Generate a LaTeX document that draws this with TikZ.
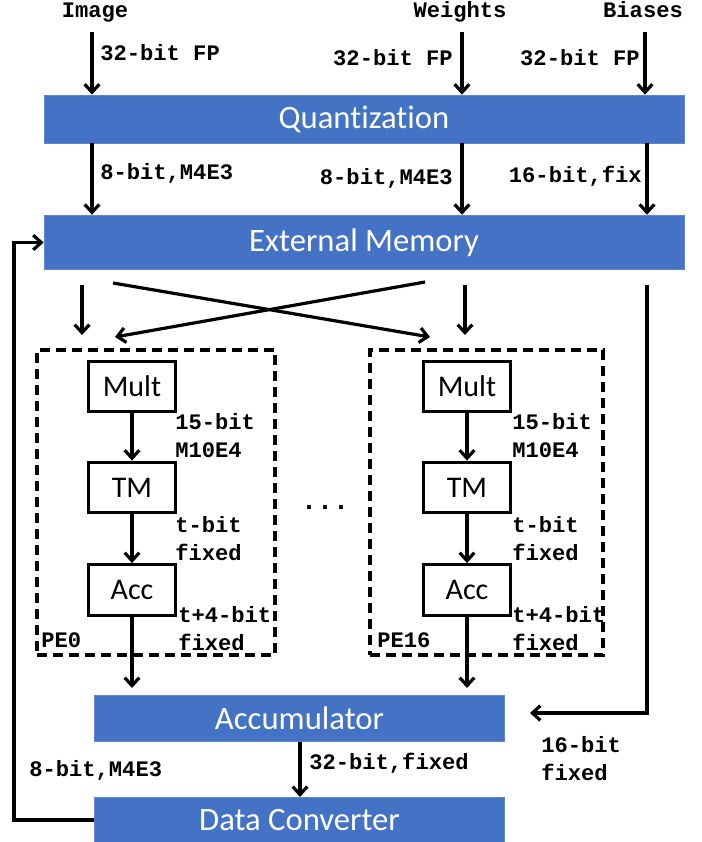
\documentclass[tikz,border=0pt]{standalone}
\usepackage{fontspec}
\usetikzlibrary{arrows.meta}
\newfontfamily\calib{Carlito}[Ligatures=NoCommon]
\newfontfamily\monob{Liberation Mono}
\definecolor{qblue}{RGB}{68,114,196}
\tikzset{
  bluebox/.style={fill=qblue, draw=qblue!85!white, line width=0.6pt, text=white, inner sep=0pt, font=\calib\fontsize{24.5}{26}\selectfont},
  pebox/.style={draw, line width=2.4pt, inner sep=0pt, minimum width=65.25pt, minimum height=38pt, font=\calib\fontsize{22.5}{24}\selectfont},
  dashbox/.style={draw, line width=2.4pt, dash pattern=on 7.5pt off 4.5pt, inner sep=0pt},
  lbl/.style={inner sep=0.75pt, font=\monob\bfseries\fontsize{16.6}{21}\selectfont, align=left},
  arr/.style={line width=2.4pt, -{Straight Barb[length=6pt,width=11pt,line width=2.4pt]}},
  ln/.style={line width=2.4pt}
}
\begin{document}
\begin{tikzpicture}[x=0.75pt,y=0.75pt,yscale=-1,xscale=1]
\useasboundingbox (0,0) rectangle (702,842);

% Blue blocks
\node [bluebox, minimum width=480pt, minimum height=36pt] (quant) at (364,119) {Quantization};
\node [bluebox, minimum width=480pt, minimum height=41pt] (extmem) at (364,242.5) {External Memory};
\node [bluebox, minimum width=308pt, minimum height=35pt] (accum) at (299.5,718.5) {Accumulator};
\node [bluebox, minimum width=308pt, minimum height=34pt] (dconv) at (299.5,820) {Data Converter};

% Inputs
\node [lbl, anchor=base] (img) at (95,18) {Image};
\node [lbl, anchor=base] (wts) at (460,18) {Weights};
\node [lbl, anchor=base] (bias) at (643,18) {Biases};
\coordinate (imgin) at (92,32);
\coordinate (wtsin) at (462,32);
\coordinate (biasin) at (645,32);
\draw [arr] (imgin) -- (imgin |- quant.north);
\draw [arr] (wtsin) -- (wtsin |- quant.north);
\draw [arr] (biasin) -- (biasin |- quant.north);
\node [lbl, anchor=west] (l1) at (99,53) {32-bit FP};
\node [lbl, anchor=east] (l2) at (454,58) {32-bit FP};
\node [lbl, anchor=east] (l3) at (641,58) {32-bit FP};

% Quantization -> External Memory
\draw [arr] (quant.south -| imgin) -- (extmem.north -| imgin);
\draw [arr] (quant.south -| wtsin) -- (extmem.north -| wtsin);
\draw [arr] (quant.south -| 647,0) -- (extmem.north -| 647,0);
\node [lbl, anchor=west] (l4) at (99,173) {8-bit,M4E3};
\node [lbl, anchor=east] (l5) at (454,178) {8-bit,M4E3};
\node [lbl, anchor=east] (l6) at (643,176) {16-bit,fix};

% Processing elements
\node [dashbox, minimum width=178.5pt, minimum height=228.75pt] (pe0) at (156,502.5) {};
\node [dashbox, minimum width=174.75pt, minimum height=228.75pt] (pe16) at (486.5,502.5) {};
\node [pebox] (mult0) at (132,386.5) {Mult};
\node [pebox] (tm0) at (132,487.5) {TM};
\node [pebox] (acc0) at (132,590) {Acc};
\node [pebox] (mult16) at (467,386.5) {Mult};
\node [pebox] (tm16) at (467,487.5) {TM};
\node [pebox] (acc16) at (467,590) {Acc};
\draw [arr] (mult0) -- (tm0);
\draw [arr] (tm0) -- (acc0);
\draw [arr] (mult16) -- (tm16);
\draw [arr] (tm16) -- (acc16);
\node [lbl, anchor=west] (l7) at (174,436) {15-bit\\M10E4};
\node [lbl, anchor=west] (l8) at (174,539) {t-bit\\fixed};
\node [lbl, anchor=west] (l9) at (177,629) {t+4-bit\\fixed};
\node [lbl, anchor=west] (l10) at (511,436) {15-bit\\M10E4};
\node [lbl, anchor=west] (l11) at (511,539) {t-bit\\fixed};
\node [lbl, anchor=west] (l12) at (511,629) {t+4-bit\\fixed};
\node [lbl, anchor=west] (pe0lbl) at (40,640) {PE0};
\node [lbl, anchor=west] (pe16lbl) at (376,640) {PE16};
\node [lbl, font=\monob\bfseries\fontsize{20}{21}\selectfont] (dots) at (325,508) {...};

% External Memory -> PEs
\coordinate (m0) at (82,285);
\coordinate (m1) at (465,285);
\coordinate (m2) at (647,285);
\coordinate (xa) at (113,283);
\coordinate (xb) at (430,337);
\coordinate (xc) at (425,282);
\coordinate (xd) at (115,337);
\draw [arr] (m0) -- (82,335);
\draw [arr] (m1) -- (465,335);
\draw [arr] (xa) -- (xb);
\draw [arr] (xc) -- (xd);
\draw [arr] (m2) |- (530,713);
\node [lbl, anchor=west] (l13) at (540,759) {16-bit\\fixed};

% PEs -> Accumulator -> Data Converter
\draw [arr] (acc0) -- (acc0 |- 0,688);
\draw [arr] (acc16) -- (acc16 |- 0,688);
\draw [arr] (accum.south -| 300,0) -- (dconv.north -| 300,0);
\node [lbl, anchor=west] (l14) at (308,763) {32-bit,fixed};

% Feedback
\draw [arr] (dconv.west) -- (14,820) |- (extmem.west);
\node [lbl, anchor=west] (l15) at (28,770) {8-bit,M4E3};
\end{tikzpicture}
\end{document}
